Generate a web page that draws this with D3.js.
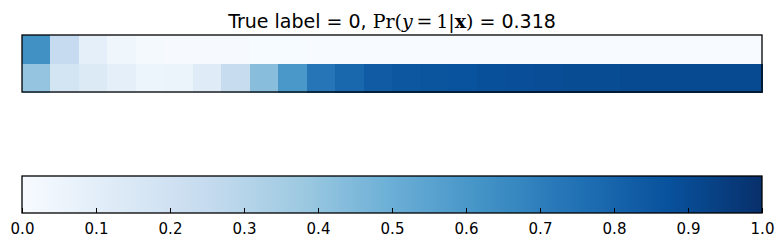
<!DOCTYPE html>
<html>
<head>
<meta charset="utf-8">
<script src="https://d3js.org/d3.v7.min.js"></script>
<style>
  body { margin: 0; background: #fff; }
  svg { display: block; }
</style>
</head>
<body>
<svg id="canvas"></svg>
<script>
// values, one per column
var rowTop = [0.63, 0.25, 0.09, 0.04, 0.015, 0.005, 0.005, 0.004, 0.003, 0.003,
              0.002, 0.002, 0.002, 0.002, 0.002, 0.002, 0.002, 0.002, 0.002, 0.002,
              0.002, 0.002, 0.002, 0.002, 0.002, 0.002];
var rowBottom = [0.40, 0.18, 0.135, 0.09, 0.05, 0.055, 0.12, 0.245, 0.43, 0.60,
                 0.735, 0.79, 0.835, 0.85, 0.86, 0.87, 0.88, 0.885, 0.89, 0.895,
                 0.895, 0.9, 0.9, 0.9, 0.9, 0.9];
var rows = [rowTop, rowBottom];
var cbTicks = [0.0, 0.1, 0.2, 0.3, 0.4, 0.5, 0.6, 0.7, 0.8, 0.9, 1.0];

// matplotlib "Blues"
var blues9 = ["#f7fbff", "#deebf7", "#c6dbef", "#9ecae1", "#6baed6",
              "#4292c6", "#2171b5", "#08519c", "#08306b"];

var width = 783,
    height = 247;

var svg = d3.select("svg")
    .attr("width", width)
    .attr("height", height);

var color = d3.scaleLinear()
    .domain(d3.range(9).map(function(i) { return i / 8; }))
    .range(blues9)
    .interpolate(d3.interpolateRgb)
    .clamp(true);

// heat map
var hm = { left: 22, right: 762, top: 35, bottom: 92 };
var nCols = rowTop.length;

var x = d3.scaleBand()
    .domain(d3.range(nCols))
    .range([hm.left, hm.right]);
var y = d3.scaleBand()
    .domain(d3.range(rows.length))
    .range([hm.top, hm.bottom]);

var cells = [];
rows.forEach(function(r, ri) {
    r.forEach(function(v, ci) { cells.push({ row: ri, col: ci, v: v }); });
});

svg.append("g")
    .selectAll("rect")
    .data(cells)
    .enter()
    .append("rect")
    .attr("x", function(d) { return x(d.col); })
    .attr("y", function(d) { return y(d.row); })
    .attr("width", x.bandwidth() + 0.5)
    .attr("height", y.bandwidth() + 0.5)
    .attr("fill", function(d) { return color(d.v); })
    .attr("shape-rendering", "crispEdges");

svg.append("rect")
    .attr("x", hm.left)
    .attr("y", hm.top)
    .attr("width", hm.right - hm.left)
    .attr("height", hm.bottom - hm.top)
    .attr("fill", "none")
    .attr("stroke", "#000")
    .attr("stroke-width", 1.3);

// title, with the math part in a serif face
var title = svg.append("text")
    .attr("x", (hm.left + hm.right) / 2)
    .attr("y", 27.5)
    .attr("text-anchor", "middle")
    .attr("font-family", "DejaVu Sans")
    .attr("font-size", 19)
    .attr("fill", "#000");

var parts = [
    { t: "True label = 0, ", f: "DejaVu Sans" },
    { t: "Pr(", f: "DejaVu Serif" },
    { t: "y", f: "DejaVu Serif", s: "italic" },
    { t: "\u2009=\u20091", f: "DejaVu Serif" },
    { t: "|", f: "DejaVu Serif" },
    { t: "x", f: "DejaVu Serif", w: "bold" },
    { t: ")", f: "DejaVu Serif" },
    { t: " = 0.318", f: "DejaVu Sans" }
];
parts.forEach(function(p) {
    title.append("tspan")
        .attr("font-family", p.f)
        .attr("font-style", p.s || "normal")
        .attr("font-weight", p.w || "normal")
        .attr("xml:space", "preserve")
        .text(p.t);
});

// colour bar
var cb = { left: 22, right: 762, top: 176, bottom: 213 };

var cx = d3.scaleLinear()
    .domain([0, 1])
    .range([cb.left, cb.right]);

var defs = svg.append("defs");
var grad = defs.append("linearGradient")
    .attr("id", "cbgrad")
    .attr("x1", "0%").attr("x2", "100%")
    .attr("y1", "0%").attr("y2", "0%");
grad.selectAll("stop")
    .data(d3.range(0, 1.0001, 1 / 64))
    .enter()
    .append("stop")
    .attr("offset", function(d) { return (d * 100) + "%"; })
    .attr("stop-color", function(d) { return color(d); });

svg.append("rect")
    .attr("x", cb.left)
    .attr("y", cb.top)
    .attr("width", cb.right - cb.left)
    .attr("height", cb.bottom - cb.top)
    .attr("fill", "url(#cbgrad)")
    .attr("stroke", "#000")
    .attr("stroke-width", 1.3);

// ticks point inward from the bottom edge
var axis = d3.axisBottom(cx)
    .tickValues(cbTicks)
    .tickFormat(d3.format(".1f"))
    .tickSizeInner(-5)
    .tickSizeOuter(0)
    .tickPadding(10);

var ax = svg.append("g")
    .attr("transform", "translate(0," + cb.bottom + ")")
    .attr("font-size", 15)
    .attr("font-family", "DejaVu Sans")
    .call(axis);
ax.select(".domain").remove();
ax.selectAll(".tick line").attr("stroke", "#000").attr("stroke-width", 1);
ax.selectAll(".tick text")
    .attr("font-family", "DejaVu Sans")
    .attr("font-size", 15)
    .attr("fill", "#000");
</script>
</body>
</html>
